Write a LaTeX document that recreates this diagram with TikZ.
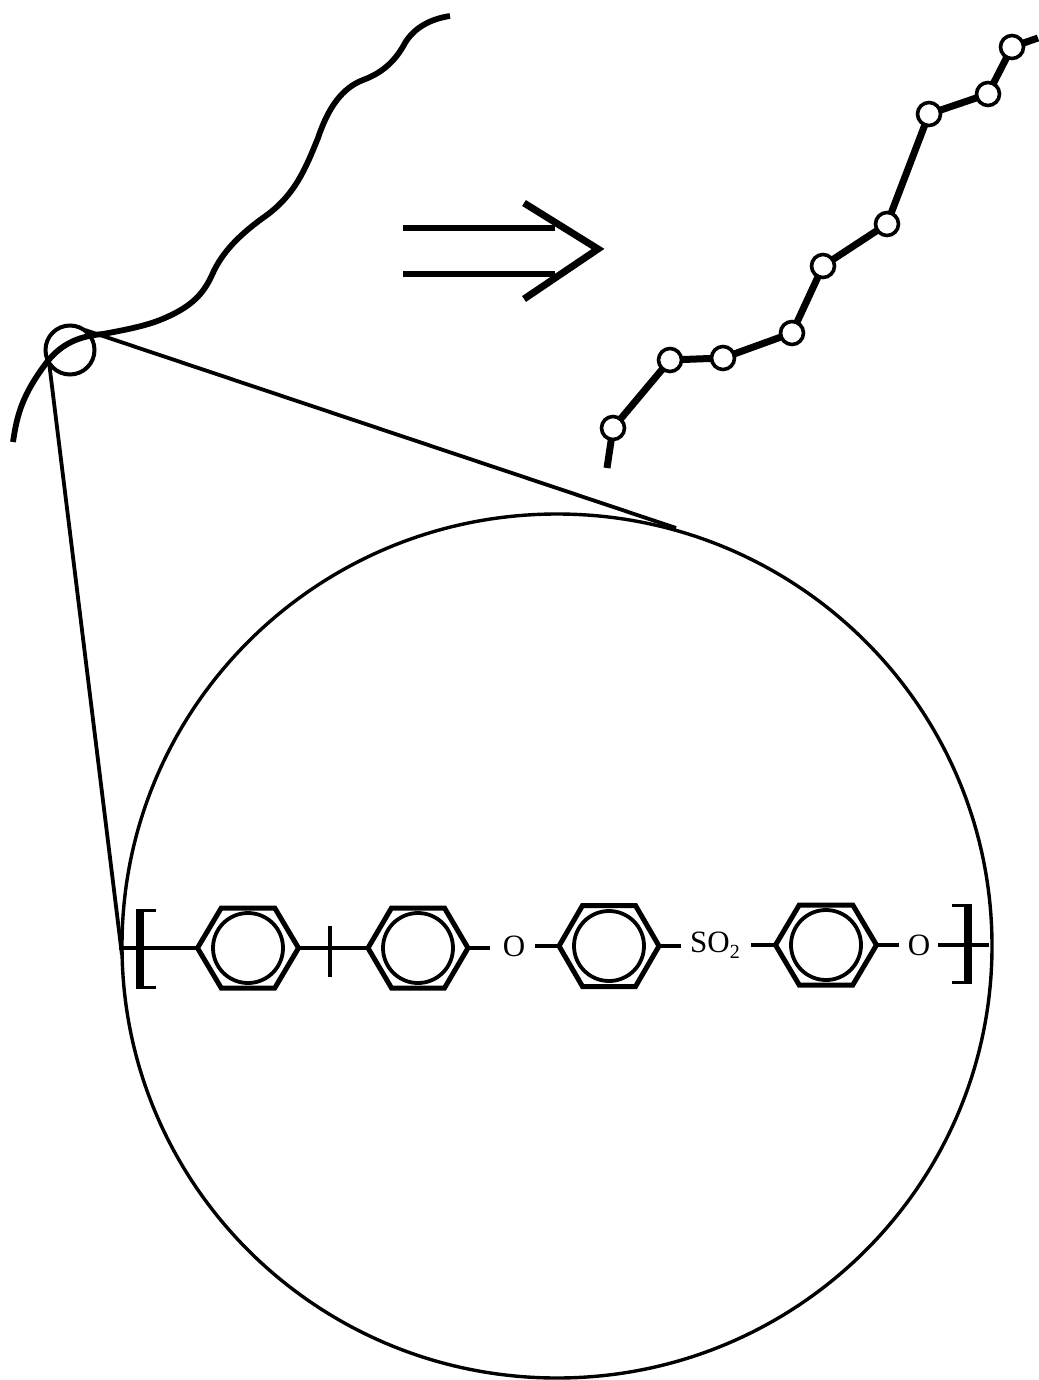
\documentclass[tikz,border=0pt]{standalone}
\usepackage{fontspec}
\setmainfont{Liberation Serif}
\tikzset{
  chainline/.style={line width=7pt},
  curveline/.style={line width=5.8pt,line join=round},
  thin line/.style={line width=3.8pt},
  bondline/.style={line width=3.2pt},
  hexline/.style={line width=5pt,line join=miter},
  ringline/.style={line width=3.8pt},
  bead/.style={circle,draw=black,fill=white,line width=3.6pt,minimum size=23pt,inner sep=0pt},
  atomtext/.style={inner sep=0pt,font=\fontsize{31}{31}\selectfont},
  arrowline/.style={line width=5.8pt},
}
\newcommand{\hexring}[5]{% name, cx, cy, half-width, half-height
  \coordinate (#1L) at (#2-#4,#3);
  \coordinate (#1R) at (#2+#4,#3);
  \coordinate (#1TL) at (#2-#4*0.53,#3-#5);
  \coordinate (#1TR) at (#2+#4*0.53,#3-#5);
  \coordinate (#1BL) at (#2-#4*0.53,#3+#5);
  \coordinate (#1BR) at (#2+#4*0.53,#3+#5);
  \draw[hexline] (#1L)--(#1TL)--(#1TR)--(#1R)--(#1BR)--(#1BL)--cycle;
  \node[circle,draw,ringline,minimum size=70pt,inner sep=0pt] (#1C) at (#2,#3) {};
}
\begin{document}
\begin{tikzpicture}[x=1pt,y=-1pt]
\useasboundingbox (0,0) rectangle (1038,1380);
% big circle
\coordinate (bigC) at (557,946);
\draw[line width=3.4pt] (bigC) ellipse [x radius=435,y radius=432];
% wavy chain
\draw[curveline,line cap=butt] (13,442)
  .. controls (17,415) and (22,395) .. (47,362)
  .. controls (62,343) and (80,336) .. (103,334)
  .. controls (125,330) and (145,326) .. (160,320)
  .. controls (190,308) and (203,295) .. (212,275)
  .. controls (222,252) and (240,234) .. (267,215)
  .. controls (295,194) and (305,170) .. (318,138)
  .. controls (328,108) and (342,88) .. (363,80)
  .. controls (385,72) and (397,58) .. (405,43)
  .. controls (414,28) and (430,19) .. (450,16);
% small circle
\node[circle,draw,line width=4pt,minimum size=49pt,inner sep=0pt] (smallC) at (70,350) {};
% zoom lines
\coordinate (zA) at (85,330);
\coordinate (zB) at (676,528);
\coordinate (zC) at (49,362);
\coordinate (zD) at (122,955);
\draw[thin line] (zA) -- (zB);
\draw[thin line] (zC) -- (zD);
% double arrow
\coordinate (a1s) at (403,228); \coordinate (a1e) at (555,228);
\coordinate (a2s) at (403,274); \coordinate (a2e) at (555,274);
\coordinate (c1) at (524,203); \coordinate (c2) at (598,249); \coordinate (c3) at (524,299);
\draw[arrowline] (a1s) -- (a1e);
\draw[arrowline] (a2s) -- (a2e);
\draw[line width=7pt,line join=miter] (c1) -- (c2) -- (c3);
% beaded chain
\coordinate (b0) at (607,468);
\coordinate (b10) at (1038,38);
\coordinate (b1) at (613,428);
\coordinate (b2) at (670,360);
\coordinate (b3) at (723,358);
\coordinate (b4) at (792,333);
\coordinate (b5) at (823,266);
\coordinate (b6) at (887,224);
\coordinate (b7) at (929,114);
\coordinate (b8) at (988,94);
\coordinate (b9) at (1012,47);
\draw[chainline] (b0)--(b1)--(b2)--(b3)--(b4)--(b5)--(b6)--(b7)--(b8)--(b9)--(b10);
\foreach \n in {1,...,9} \node[bead] (n\n) at (b\n) {};
% repeat unit
\hexring{ha}{248}{948}{50.5}{40}
\hexring{hb}{418}{948}{50}{40}
\hexring{hc}{609}{946}{50}{40.5}
\hexring{hd}{826}{945}{50.5}{40}
\node[atomtext] (o1) at (514,946) {O};
\node[atomtext,anchor=west] (so2) at (690,945) {SO\raisebox{-6pt}{\fontsize{20}{20}\selectfont 2}};
\node[atomtext] (o2) at (919,945) {O};
\coordinate (tq) at (330,948);
\coordinate (tqT) at (330,926);
\coordinate (tqB) at (330,977);
\coordinate (lend) at (119,948);
\coordinate (rend) at (989,945);
\draw[bondline] (lend) -- (haL);
\draw[bondline] (haR) -- (tq) -- (hbL);
\draw[line width=3.8pt] (tqT) -- (tqB);
\draw[line width=4.4pt] (hbR) -- (490,948);
\draw[line width=4.4pt] (535,946) -- (hcL);
\draw[line width=4.4pt] (hcR) -- (681,946);
\draw[line width=4.4pt] (751,945) -- (hdL);
\draw[line width=4.4pt] (hdR) -- (899,945);
\draw[bondline] (938,945) -- (rend);
% brackets
\coordinate (lbT) at (156,910); \coordinate (lbB) at (156,987);
\coordinate (rbT) at (952,905); \coordinate (rbB) at (952,982);
\draw[line width=3pt] (lbT) -- (137,910);
\draw[line width=3pt] (lbB) -- (137,987);
\draw[line width=7.5pt] (140,908.5) -- (140,988.5);
\draw[line width=3pt] (rbT) -- (971,905);
\draw[line width=3pt] (rbB) -- (971,982);
\draw[line width=7.5pt] (968,903.5) -- (968,983.5);
\end{tikzpicture}
\end{document}
